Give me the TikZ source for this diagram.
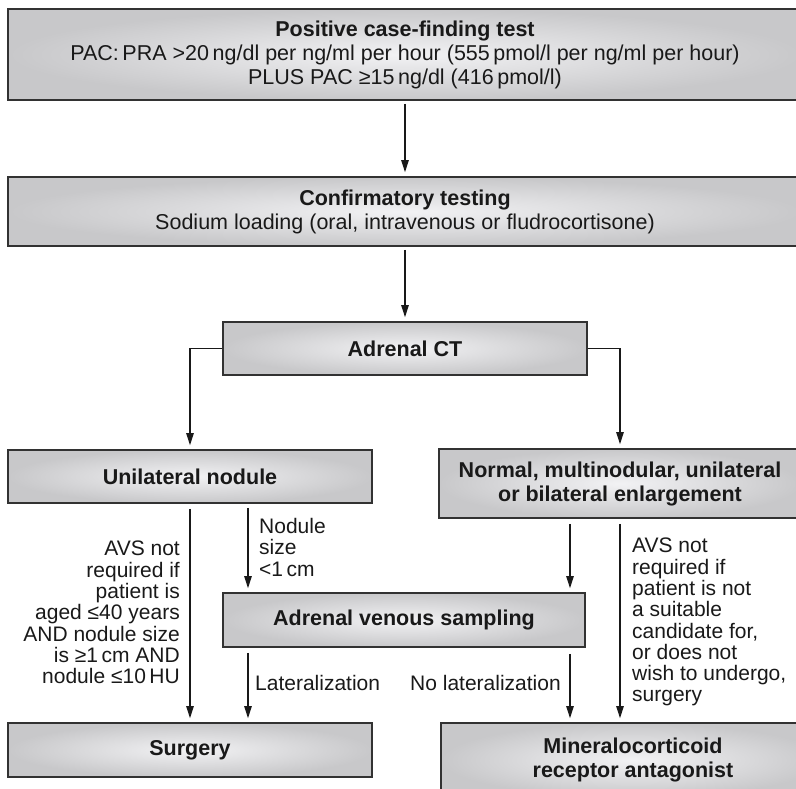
\documentclass[tikz,border=0pt]{standalone}
\usepackage{fontspec}
\setmainfont{Liberation Sans}
\usetikzlibrary{arrows.meta}
\definecolor{bord}{RGB}{50,50,50}
\definecolor{shout}{RGB}{200,200,202}
\definecolor{shin}{RGB}{242,242,244}
\definecolor{ink}{RGB}{25,25,25}
\begin{document}
\begin{tikzpicture}[x=1pt,y=-1pt,
  box/.style={draw=bord, line width=1.7pt, inner color=shin, outer color=shout,
    inner sep=0pt, align=center, font=\fontsize{21.5}{24}\selectfont, text=ink},
  boxb/.style={box, font=\fontsize{21.5}{24}\selectfont\bfseries},
  arr/.style={draw=ink, line width=1.1pt, -{Triangle[length=12pt,width=7.5pt]},
    shorten >=4pt},
  lab/.style={inner sep=0pt, font=\fontsize{21}{21.3}\selectfont, text=ink}]
\useasboundingbox (0,0) rectangle (796,789);
\clip (0,0) rectangle (796,789);
\node[box, minimum width=794pt, minimum height=91pt] (b1) at (405,54.5)
  {\textbf{Positive case-finding test}\\PAC:\,PRA >20\,ng/dl per ng/ml per hour (555\,pmol/l per ng/ml per hour)\\PLUS PAC ≥15\,ng/dl (416\,pmol/l)};
\node[box, minimum width=794pt, minimum height=69pt] (b2) at (405,211.5)
  {\textbf{Confirmatory testing}\\Sodium loading (oral, intravenous or fludrocortisone)};
\node[boxb, minimum width=364pt, minimum height=53pt] (ct) at (405,348.5) {Adrenal CT};
\node[boxb, minimum width=364pt, minimum height=53pt] (un) at (190,476.5) {Unilateral nodule};
\node[boxb, minimum width=362pt, minimum height=69pt] (nm) at (620,483.5)
  {Normal, multinodular, unilateral\\or bilateral enlargement};
\node[boxb, minimum width=362pt, minimum height=54pt] (av) at (404,620) {Adrenal venous sampling};
\node[boxb, minimum width=364pt, minimum height=54pt] (su) at (190,750) {Surgery};
\node[boxb, minimum width=384pt, minimum height=74pt] (mr) at (633,760)
  {Mineralocorticoid\\receptor antagonist};
\coordinate (xl) at (248,0);
\coordinate (xr) at (570,0);
\draw[arr, shorten <=3pt] (b1.south) -- (b2.north);
\draw[arr, shorten <=3pt] (b2.south) -- (ct.north);
\draw[arr] (ct.west) -| (un.north);
\draw[arr] (ct.east) -| (nm.north);
\draw[arr, shorten <=5pt] (un.south) -- (su.north);
\draw[arr, shorten <=4pt] (un.south -| xl) -- (av.north -| xl);
\draw[arr, shorten <=5pt] (nm.south -| xr) -- (av.north -| xr);
\draw[arr, shorten <=5pt] (nm.south) -- (mr.north -| nm.south);
\draw[arr, shorten <=5pt] (av.south -| xl) -- (su.north -| xl);
\draw[arr, shorten <=6pt] (av.south -| xr) -- (mr.north -| xr);
\node[lab, align=right, anchor=north east] (l1) at (180,541)
  {AVS not\\required if\\patient is\\aged ≤40 years\\AND nodule size\\is ≥1\,cm AND\\nodule ≤10\,HU};
\node[lab, align=left, anchor=north west] (l2) at (259,518) {Nodule\\size\\<1\,cm};
\node[lab, anchor=base west] (l3) at (255,690) {Lateralization};
\node[lab, anchor=base east] (l4) at (561,690) {No lateralization};
\node[lab, align=left, anchor=north west] (l5) at (632,538)
  {AVS not\\required if\\patient is not\\a suitable\\candidate for,\\or does not\\wish to undergo,\\surgery};
\end{tikzpicture}
\end{document}
